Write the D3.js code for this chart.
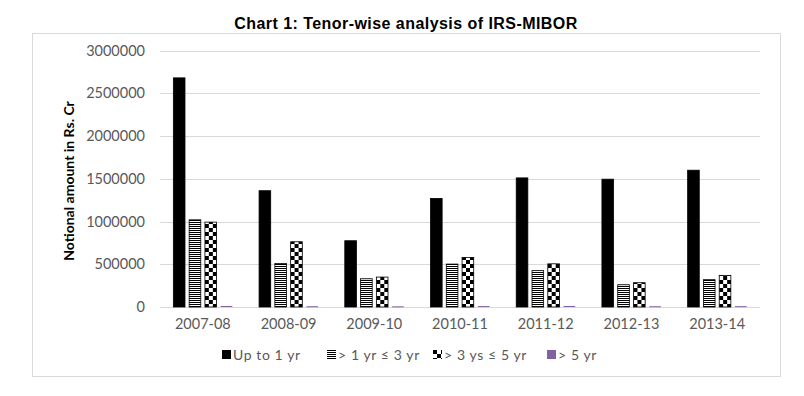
<!DOCTYPE html>
<html>
<head>
<meta charset="utf-8">
<script src="https://cdn.jsdelivr.net/npm/d3@7"></script>
<style>
  body { margin: 0; background: #fff; }
  text { font-family: Lato, "Open Sans", sans-serif; }
</style>
</head>
<body>
<script>
// data
const years = ["2007-08", "2008-09", "2009-10", "2010-11", "2011-12", "2012-13", "2013-14"];
const seriesNames = ["Up to 1 yr", "> 1 yr \u2264 3 yr", "> 3 ys \u2264 5 yr", "> 5 yr"];
const upTo1 = [2680000, 1360000, 775000, 1270000, 1510000, 1495000, 1600000];
const oneTo3 = [1020000, 510000, 330000, 502000, 425000, 260000, 320000];
const threeTo5 = [993000, 763000, 350000, 580000, 505000, 284000, 370000];
const over5 = [12000, 9000, 8000, 11000, 12000, 9000, 10000];
const yTicks = [0, 500000, 1000000, 1500000, 2000000, 2500000, 3000000];

const width = 804, height = 396;
const margin = {left: 160, right: 44, top: 50, bottom: 89};

const svg = d3.select("body").append("svg")
    .attr("width", width)
    .attr("height", height);

// fill patterns for the monochrome series
const defs = svg.append("defs");
const stripes = defs.append("pattern")
    .attr("id", "stripes")
    .attr("patternUnits", "userSpaceOnUse")
    .attr("width", 4).attr("height", 2);
stripes.append("rect").attr("width", 4).attr("height", 2).attr("fill", "#fff");
stripes.append("rect").attr("width", 4).attr("height", 1).attr("fill", "#000");

const checks = defs.append("pattern")
    .attr("id", "checks")
    .attr("patternUnits", "userSpaceOnUse")
    .attr("width", 8).attr("height", 8);
checks.append("rect").attr("width", 8).attr("height", 8).attr("fill", "#fff");
checks.append("rect").attr("width", 4).attr("height", 4).attr("fill", "#000");
checks.append("rect").attr("x", 4).attr("y", 4).attr("width", 4).attr("height", 4).attr("fill", "#000");

const fills = ["#000", "url(#stripes)", "url(#checks)", "#8064a2"];
const strokes = ["#000", "#000", "#000", "#8064a2"];

// outer frame
svg.append("rect")
    .attr("x", 32.5).attr("y", 33.5)
    .attr("width", 748).attr("height", 343)
    .attr("fill", "none")
    .attr("stroke", "#d9d9d9");

svg.append("text")
    .attr("x", 406).attr("y", 29)
    .attr("text-anchor", "middle")
    .style("font-family", "'Liberation Sans', Arial, sans-serif")
    .style("font-weight", "bold")
    .style("font-size", "16px")
    .style("letter-spacing", "0.45px")
    .text("Chart 1: Tenor-wise analysis of IRS-MIBOR");

const x0 = d3.scaleBand()
    .domain(years)
    .range([margin.left, width - margin.right])
    .paddingInner(0.3)
    .paddingOuter(0.15);

const x1 = d3.scaleBand()
    .domain(d3.range(seriesNames.length))
    .range([0, x0.bandwidth()])
    .paddingInner(0.2);

const y = d3.scaleLinear()
    .domain([0, 3000000])
    .range([height - margin.bottom, margin.top + 0.5]);

// gridlines
svg.append("g")
    .selectAll("line")
    .data(yTicks)
    .join("line")
    .attr("x1", margin.left)
    .attr("x2", width - margin.right)
    .attr("y1", d => Math.round(y(d)) + 0.5)
    .attr("y2", d => Math.round(y(d)) + 0.5)
    .attr("stroke", "#d9d9d9");

// y axis labels
const yAxis = svg.append("g")
    .attr("transform", "translate(" + (margin.left - 15) + ",0)")
    .call(d3.axisLeft(y).tickValues(yTicks).tickSize(0).tickPadding(0).tickFormat(d3.format("d")));
yAxis.select(".domain").remove();
yAxis.selectAll("text")
    .attr("fill", "#595959")
    .style("font-size", "14.5px")
    .style("font-family", "Lato, sans-serif");

// x axis labels
const xAxis = svg.append("g")
    .attr("transform", "translate(0," + y(0) + ")")
    .call(d3.axisBottom(x0).tickSize(0).tickPadding(12));
xAxis.select(".domain").remove();
xAxis.selectAll("text")
    .attr("fill", "#595959")
    .style("font-size", "14.5px")
    .style("font-family", "Lato, sans-serif");

svg.append("text")
    .attr("transform", "translate(74,181) rotate(-90)")
    .attr("text-anchor", "middle")
    .style("font-weight", "bold")
    .style("font-size", "14px")
    .attr("fill", "#000")
    .text("Notional amount in Rs. Cr");

// bars
const seriesValues = [upTo1, oneTo3, threeTo5, over5];
const groups = svg.append("g")
    .selectAll("g")
    .data(years)
    .join("g")
    .attr("transform", d => "translate(" + x0(d) + ",0)");

groups.selectAll("rect")
    .data((d, i) => seriesValues.map((vals, s) => ({s: s, v: vals[i]})))
    .join("rect")
    .attr("x", d => x1(d.s) + 0.5)
    .attr("width", x1.bandwidth() - 1)
    .attr("y", d => y(d.v))
    .attr("height", d => Math.max(1, y(0) - y(d.v)))
    .attr("fill", d => fills[d.s])
    .attr("stroke", d => d.s === 3 ? "none" : strokes[d.s])
    .attr("stroke-width", 0.8);

// legend
const legendX = [222, 327, 433, 547];
const legend = svg.append("g")
    .selectAll("g")
    .data(seriesNames)
    .join("g")
    .attr("transform", (d, i) => "translate(" + legendX[i] + ",350)");

legend.append("rect")
    .attr("width", 9).attr("height", 9)
    .attr("fill", (d, i) => fills[i]);

legend.append("text")
    .attr("x", 11).attr("y", 9.5)
    .attr("fill", "#595959")
    .style("font-size", "14px")
    .style("letter-spacing", "0.6px")
    .text(d => d);
</script>
</body>
</html>
